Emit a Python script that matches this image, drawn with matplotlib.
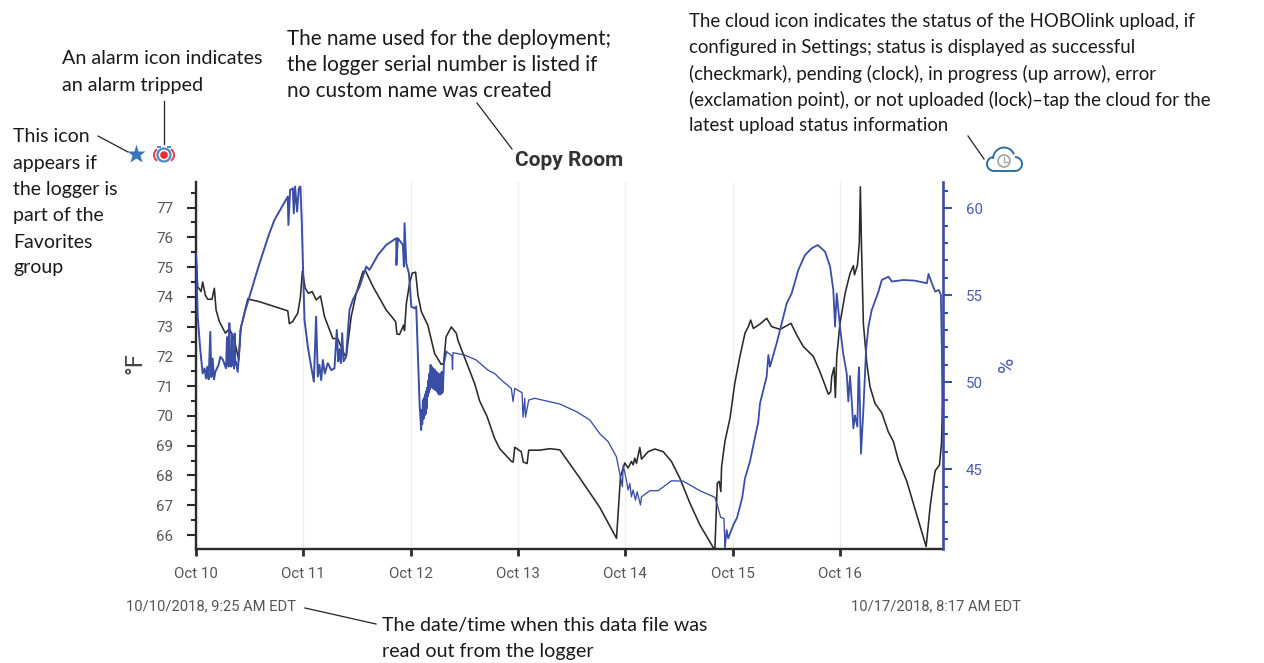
import numpy as np
import matplotlib.pyplot as plt
from matplotlib.patches import Circle, Arc, Rectangle

# Valeurs (jours depuis le 10 oct.)
temp_days = [0.0, 0.016, 0.047, 0.062, 0.087, 0.109, 0.149, 0.171, 0.187, 0.218, 0.274, 0.311, 0.358, 0.398, 0.42, 0.482, 0.59, 0.855, 0.87, 0.9, 0.948, 0.973, 0.992, 1.017, 1.048, 1.082, 1.12, 1.16, 1.197, 1.275, 1.32, 1.384, 1.4, 1.446, 1.493, 1.555, 1.58, 1.65, 1.772, 1.86, 1.872, 1.897, 1.934, 1.943, 1.96, 1.99, 2.015, 2.046, 2.068, 2.1, 2.16, 2.223, 2.285, 2.307, 2.33, 2.379, 2.425, 2.44, 2.596, 2.643, 2.71, 2.783, 2.83, 2.94, 2.955, 2.97, 3.03, 3.05, 3.085, 3.1, 3.2, 3.3, 3.39, 3.575, 3.76, 3.918, 3.955, 3.995, 4.026, 4.057, 4.073, 4.088, 4.104, 4.12, 4.135, 4.151, 4.213, 4.275, 4.353, 4.43, 4.508, 4.602, 4.695, 4.819, 4.835, 4.857, 4.875, 4.89, 4.897, 4.928, 4.975, 5.02, 5.068, 5.115, 5.146, 5.168, 5.193, 5.255, 5.317, 5.364, 5.441, 5.544, 5.6, 5.659, 5.752, 5.814, 5.892, 5.913, 5.923, 5.945, 5.957, 5.97, 6.0, 6.048, 6.094, 6.125, 6.135, 6.163, 6.18, 6.19, 6.2, 6.218, 6.25, 6.28, 6.327, 6.39, 6.45, 6.498, 6.545, 6.623, 6.803, 6.825, 6.84, 6.87, 6.887, 6.927, 6.946, 6.955]
temp_f = [75.47, 74.34, 74.18, 74.5, 74.06, 73.92, 73.92, 74.29, 73.56, 73.17, 72.78, 72.94, 72.55, 71.88, 73.0, 73.93, 73.84, 73.53, 73.1, 73.17, 73.45, 74.0, 74.88, 74.29, 74.12, 74.18, 73.9, 74.03, 73.34, 72.6, 72.6, 72.05, 72.0, 73.34, 74.12, 74.85, 74.87, 74.34, 73.56, 73.17, 72.75, 72.74, 73.05, 72.87, 73.78, 74.46, 74.8, 74.83, 74.06, 73.5, 73.05, 72.1, 71.73, 71.77, 72.66, 72.99, 72.78, 72.55, 71.09, 70.5, 70.0, 69.24, 68.9, 68.47, 68.45, 68.95, 68.8, 68.45, 68.4, 68.85, 68.85, 68.9, 68.86, 67.92, 66.94, 65.89, 67.96, 68.42, 68.25, 68.47, 68.36, 68.58, 68.41, 68.69, 68.94, 68.55, 68.8, 68.89, 68.8, 68.47, 67.91, 67.07, 66.34, 65.58, 65.55, 67.74, 67.8, 67.46, 68.3, 69.14, 69.92, 71.1, 72.0, 72.78, 73.0, 73.22, 72.94, 73.09, 73.28, 73.0, 72.91, 73.11, 72.7, 72.33, 72.0, 71.48, 70.73, 70.81, 71.32, 71.63, 70.62, 71.99, 73.11, 74.12, 74.79, 75.05, 74.74, 75.07, 75.8, 77.7, 75.8, 73.11, 71.77, 70.98, 70.42, 70.1, 69.47, 69.14, 68.5, 67.8, 65.61, 66.4, 66.95, 67.74, 68.16, 68.35, 69.08, 70.3]

rh_days = [0.0, 0.016, 0.04, 0.062, 0.08, 0.093, 0.105, 0.118, 0.133, 0.143, 0.155, 0.168, 0.18, 0.21, 0.227, 0.25, 0.28, 0.289, 0.294, 0.298, 0.304, 0.311, 0.316, 0.323, 0.329, 0.336, 0.342, 0.35, 0.355, 0.36, 0.366, 0.373, 0.388, 0.4, 0.413, 0.46, 0.507, 0.57, 0.622, 0.68, 0.731, 0.855, 0.861, 0.877, 0.902, 0.911, 0.923, 0.942, 0.958, 0.973, 0.986, 0.995, 1.011, 1.042, 1.073, 1.098, 1.119, 1.135, 1.15, 1.166, 1.182, 1.2, 1.228, 1.26, 1.29, 1.312, 1.325, 1.337, 1.35, 1.362, 1.375, 1.399, 1.43, 1.461, 1.524, 1.586, 1.617, 1.695, 1.772, 1.866, 1.867, 1.881, 1.928, 1.937, 1.943, 1.959, 1.984, 2.006, 2.037, 2.052, 2.083, 2.098, 2.102, 2.108, 2.114, 2.12, 2.125, 2.13, 2.135, 2.14, 2.145, 2.15, 2.155, 2.16, 2.165, 2.17, 2.175, 2.18, 2.186, 2.19, 2.195, 2.2, 2.207, 2.212, 2.218, 2.223, 2.228, 2.233, 2.238, 2.243, 2.248, 2.253, 2.258, 2.263, 2.27, 2.275, 2.28, 2.285, 2.29, 2.295, 2.3, 2.31, 2.332, 2.363, 2.385, 2.39, 2.394, 2.503, 2.611, 2.72, 2.783, 2.845, 2.938, 2.954, 2.97, 3.038, 3.047, 3.063, 3.07, 3.1, 3.156, 3.39, 3.55, 3.67, 3.76, 3.84, 3.917, 3.973, 3.98, 4.01, 4.026, 4.042, 4.057, 4.073, 4.095, 4.11, 4.141, 4.151, 4.228, 4.306, 4.43, 4.539, 4.695, 4.835, 4.866, 4.888, 4.919, 4.928, 4.944, 4.959, 5.006, 5.04, 5.068, 5.09, 5.115, 5.161, 5.2, 5.239, 5.255, 5.317, 5.333, 5.348, 5.41, 5.457, 5.504, 5.55, 5.612, 5.675, 5.737, 5.793, 5.861, 5.908, 5.938, 5.954, 5.97, 6.0, 6.03, 6.063, 6.078, 6.094, 6.11, 6.125, 6.14, 6.162, 6.172, 6.178, 6.196, 6.218, 6.243, 6.265, 6.296, 6.358, 6.39, 6.452, 6.483, 6.592, 6.7, 6.81, 6.825, 6.856, 6.888, 6.92, 6.94, 6.95, 6.955]
rh_pct = [57.41, 53.77, 51.85, 50.51, 50.8, 50.22, 50.89, 50.17, 52.9, 50.3, 51.37, 50.17, 50.6, 51.0, 51.47, 51.3, 50.8, 52.6, 51.0, 51.66, 50.9, 53.4, 51.1, 51.47, 50.9, 52.8, 51.0, 51.37, 50.8, 52.8, 51.0, 51.18, 50.6, 51.47, 53.0, 54.15, 55.1, 56.4, 57.41, 58.5, 59.33, 60.67, 59.04, 61.05, 61.15, 59.71, 61.25, 59.81, 61.15, 61.25, 59.14, 57.03, 53.58, 52.05, 50.9, 50.04, 53.77, 50.33, 51.0, 50.13, 51.28, 50.5, 51.1, 50.7, 50.8, 53.01, 51.2, 51.9, 51.1, 52.82, 51.2, 51.48, 54.16, 54.73, 55.5, 56.65, 56.46, 57.32, 57.89, 58.28, 56.74, 58.28, 57.89, 56.65, 59.14, 56.84, 56.26, 54.35, 54.25, 54.35, 48.79, 47.26, 48.4, 47.6, 48.98, 47.9, 49.1, 48.1, 49.3, 48.2, 49.5, 48.5, 49.7, 49.2, 50.1, 49.4, 50.5, 49.6, 51.0, 49.75, 50.9, 49.7, 50.8, 49.65, 50.75, 49.6, 50.7, 49.55, 50.6, 49.5, 50.55, 49.4, 50.5, 49.3, 50.42, 49.3, 50.5, 49.35, 50.6, 49.4, 49.6, 51.09, 51.76, 51.63, 51.5, 50.74, 51.7, 51.57, 51.28, 50.7, 50.5, 50.13, 49.65, 48.89, 49.65, 49.4, 48.0, 49.08, 48.0, 48.98, 49.08, 48.75, 48.3, 47.83, 47.06, 46.59, 45.72, 44.0, 45.24, 44.38, 43.81, 44.19, 43.42, 43.81, 43.23, 43.71, 42.95, 43.42, 43.77, 43.77, 44.34, 44.32, 43.77, 43.39, 42.75, 42.24, 42.18, 40.55, 41.51, 41.03, 41.8, 42.2, 42.85, 43.4, 44.48, 45.44, 46.6, 47.73, 48.79, 50.33, 51.57, 50.9, 52.24, 53.39, 54.54, 55.11, 56.46, 57.32, 57.7, 57.89, 57.51, 56.65, 55.3, 53.2, 55.1, 53.2, 51.66, 50.5, 48.9, 50.36, 48.9, 47.35, 48.1, 47.45, 50.3, 50.86, 45.9, 48.4, 51.85, 53.2, 54.15, 55.2, 55.88, 56.07, 55.79, 55.88, 55.84, 55.69, 56.23, 55.69, 55.21, 55.31, 55.02, 51.67, 47.84]

day_labels = ['Oct 10', 'Oct 11', 'Oct 12', 'Oct 13', 'Oct 14', 'Oct 15', 'Oct 16']
temp_ticks = [66, 67, 68, 69, 70, 71, 72, 73, 74, 75, 76, 77]
rh_ticks = [45, 50, 55, 60]

note_star = ['This icon', 'appears if', 'the logger is', 'part of the', 'Favorites', 'group']
note_alarm = ['An alarm icon indicates', 'an alarm tripped']
note_name = ['The name used for the deployment;', 'the logger serial number is listed if', 'no custom name was created']
note_cloud = ['The cloud icon indicates the status of the HOBOlink upload, if',
              'configured in Settings; status is displayed as successful',
              '(checkmark), pending (clock), in progress (up arrow), error',
              '(exclamation point), or not uploaded (lock)–tap the cloud for the',
              'latest upload status information']
note_date = ['The date/time when this data file was', 'read out from the logger']

NAVY = '#3a4ea6'
BLACK = '#2a2a2a'
GREY = '#555555'

W, H = 1264, 663
fig = plt.figure(figsize=(W / 100, H / 100), dpi=100)

# Axes principaux
ax = fig.add_axes([196 / W, 1 - 549 / H, (943 - 196) / W, (549 - 182) / H])
ax.set_xlim(0, 6.96)
ax.set_ylim(65.53, 77.86)
ax.set_xticks(range(7))
ax.set_xticklabels(day_labels, family='Roboto', fontsize=10.8, color=GREY)
ax.set_yticks(temp_ticks)
ax.set_yticklabels(temp_ticks, family='Roboto', fontsize=10.8, color=GREY)
ax.set_yticks(np.arange(66.5, 77.6, 1), minor=True)
ax.tick_params(axis='x', length=5, width=2, color=BLACK, pad=8)
ax.tick_params(axis='y', which='major', length=6.5, width=1.5, color=BLACK, pad=10)
ax.tick_params(axis='y', which='minor', length=3.6, width=1.5, color=BLACK)
ax.grid(axis='x', color='#eeeef2', lw=0.9)
ax.set_axisbelow(True)
for s in ['top', 'right']:
    ax.spines[s].set_visible(False)
for s in ['left', 'bottom']:
    ax.spines[s].set_linewidth(1.7)
    ax.spines[s].set_color(BLACK)
ax.plot(temp_days, temp_f, color=BLACK, lw=1.15, solid_joinstyle='round')

# Humidité
ax2 = ax.twinx()
ax2.set_ylim(40.42, 61.51)
ax2.set_yticks(rh_ticks)
ax2.set_yticklabels(rh_ticks, family='Roboto', fontsize=10.8, color='#4b5bb3')
ax2.set_yticks(range(41, 62), minor=True)
ax2.tick_params(axis='y', which='major', length=6.5, width=1.5, color=NAVY, pad=10)
ax2.tick_params(axis='y', which='minor', length=3.6, width=1.5, color=NAVY)
for s in ['top', 'left', 'bottom']:
    ax2.spines[s].set_visible(False)
ax2.spines['right'].set_linewidth(1.9)
ax2.spines['right'].set_color(NAVY)
days = np.array(rh_days)
rh = np.array(rh_pct)
thin = (days >= 2.32) & (days <= 4.93)
a, b = np.where(thin)[0][[0, -1]]
ax2.plot(days[:a + 1], rh[:a + 1], color=NAVY, lw=1.4)
ax2.plot(days[a:b + 1], rh[a:b + 1], color=NAVY, lw=0.95)
ax2.plot(days[b:], rh[b:], color=NAVY, lw=1.3)

# Calque pour les annotations, en pixels
over = fig.add_axes([0, 0, 1, 1])
over.set_xlim(0, W)
over.set_ylim(H, 0)
over.axis('off')
over.patch.set_alpha(0)


def note(x, ys, lines, size):
    for y, line in zip(ys, lines):
        over.text(x, y, line, family='Lato', fontsize=size, color='#1a1a1a', va='center', ha='left')


note(13, [137, 163, 189, 216, 242, 268], note_star, 14)
note(62, [59, 85], note_alarm, 14.2)
note(287, [39, 65, 91], note_name, 14.9)
note(689, [22, 48, 74, 100, 125], note_cloud, 13.4)
note(382, [626, 652], note_date, 14.1)

for x0, y0, x1, y1 in [(98, 136, 128, 152), (164, 101, 164, 144), (477, 103, 512, 149), (968, 136, 984, 159), (305, 608, 376, 624)]:
    over.plot([x0, x1], [y0, y1], color='#222222', lw=0.9)

over.text(569, 161, 'Copy Room', family='Roboto', fontweight='bold', fontsize=15, color='#333333', ha='center', va='center')
over.text(135, 363, '°F', family='Roboto', fontsize=17, color='#444444', rotation=90, ha='center', va='center')
over.text(1007, 364, '%', family='Roboto', fontsize=15, color='#4b5bb3', rotation=90, ha='center', va='center')
over.text(126, 606, '10/10/2018, 9:25 AM EDT', family='Roboto', fontsize=10.6, color=GREY, ha='left', va='center')
over.text(1021, 606, '10/17/2018, 8:17 AM EDT', family='Roboto', fontsize=10.6, color=GREY, ha='right', va='center')

# Icônes
over.plot([135.7], [154], marker='*', ms=14, color='#3a75b8', mec='none')
over.add_patch(Circle((164, 155), 6.5, fc='#ffffff', ec='#4f86c6', lw=1.6))
over.add_patch(Circle((164, 155), 3.8, fc='#ee2b33', ec='none'))
over.add_patch(Arc((164, 155), 20, 16, theta1=140, theta2=220, ec='#ee3a42', lw=1.4))
over.add_patch(Arc((164, 155), 20, 16, theta1=-40, theta2=40, ec='#ee3a42', lw=1.4))
over.add_patch(Rectangle((157, 146), 4, 2, fc='#4f86c6', ec='none'))
over.add_patch(Rectangle((167, 146), 4, 2, fc='#4f86c6', ec='none'))

cloud = '#2f6f9f'
over.add_patch(Arc((1004, 159), 22, 23, theta1=180, theta2=335, ec=cloud, lw=1.4))
over.add_patch(Arc((994, 164), 14, 14, theta1=80, theta2=270, ec=cloud, lw=1.4))
over.add_patch(Arc((1015, 164), 14, 14, theta1=-90, theta2=110, ec=cloud, lw=1.4))
over.plot([994, 1015], [171, 171], color=cloud, lw=1.4)
over.add_patch(Circle((1004, 161), 6, fc='none', ec='#a8a8a8', lw=1.3))
over.plot([1004, 1004, 1008], [157, 161.5, 161.5], color='#a8a8a8', lw=1)

fig.savefig('out.png', dpi=100)
